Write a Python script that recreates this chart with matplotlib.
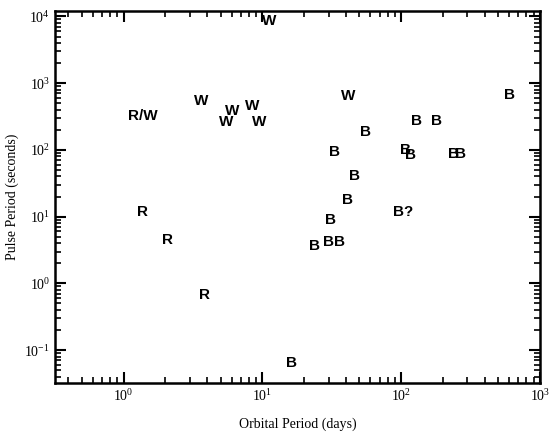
import matplotlib.pyplot as plt

# letter codes: B = Be/transient, W = wind-fed, R = Roche-lobe overflow
labels = ['W', 'R/W', 'W', 'W', 'W', 'W', 'W', 'W',
          'B', 'B', 'B', 'B', 'B', 'B', 'B', 'B', 'B', 'B', 'B',
          'B?', 'B', 'B', 'B', 'B', 'B', 'R', 'R', 'R']
orbital_days = [11.2, 1.37, 3.6, 5.5, 6.1, 8.5, 9.5, 41.6,
                608, 55, 130, 181, 33, 107, 116, 237, 266, 46, 41,
                103, 31, 23.7, 30, 35.8, 16.2, 1.37, 2.07, 3.83]
pulse_sec = [8500, 320, 540, 262, 382, 455, 262, 640,
             660, 186, 270, 270, 93, 100, 85, 87, 87, 41, 18,
             11.9, 9.0, 3.57, 4.2, 4.2, 0.064, 11.9, 4.4, 0.66]

plt.rcParams['font.family'] = 'Liberation Serif'
plt.rcParams['mathtext.fontset'] = 'stix'

fig = plt.figure(figsize=(5.51, 4.45), dpi=100)
ax = fig.add_axes([0.0998, 0.139, 0.880, 0.836])

for lab, x, y in zip(labels, orbital_days, pulse_sec):
    ax.text(x, y, lab, ha='center', va='center', fontsize=11,
            fontweight='bold', family='Liberation Sans')

ax.set_xscale('log')
ax.set_yscale('log')
ax.set_xlim(0.32, 1000)
ax.set_ylim(0.032, 1.2e4)
ax.set_xlabel('Orbital Period (days)', fontsize=10, labelpad=10)
ax.set_ylabel('Pulse Period (seconds)', fontsize=10, labelpad=4)

for s in ax.spines.values():
    s.set_linewidth(1.8)
ax.tick_params(which='both', direction='in', top=True, right=True, labelsize=10)
ax.tick_params(which='major', length=8, width=1.5)
ax.tick_params(which='minor', length=4, width=1.2)

fig.savefig('out.png', dpi=100)
